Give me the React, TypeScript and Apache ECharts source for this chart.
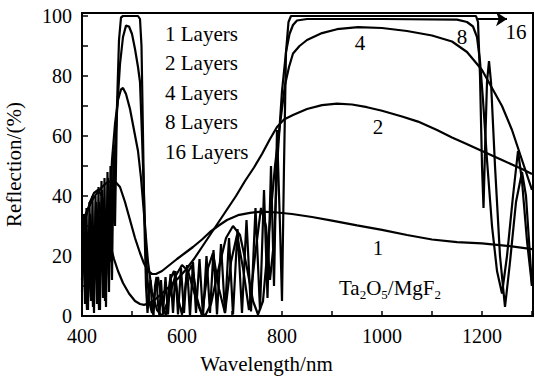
import React, { useEffect, useRef } from "react";
import * as echarts from "echarts";

const FONT = "Liberation Serif";

const seriesNames = ["1 Layers", "2 Layers", "4 Layers", "8 Layers", "16 Layers"];

const layer1: [number, number][] = [
  [400, 31], [410, 35], [420, 38.5], [430, 41], [440, 43], [450, 44.5], [460, 45], [468, 44.5],
  [476, 43], [486, 38], [496, 32], [506, 26], [516, 21], [524, 17.5], [532, 15], [540, 14],
  [548, 14], [560, 15], [575, 17], [590, 19], [606, 21], [622, 23], [640, 25.5], [656, 28],
  [672, 30], [690, 32], [712, 33.6], [736, 34.4], [760, 34.8], [790, 34.5], [820, 34],
  [860, 33], [900, 31.8], [950, 30.2], [1000, 28.7], [1050, 27], [1100, 25.5], [1150, 24.6],
  [1200, 24.2], [1250, 23.4], [1300, 22.3],
];

const layer2: [number, number][] = [
  [400, 28], [408, 33], [416, 38], [424, 41], [432, 42], [440, 40], [448, 32], [456, 24],
  [464, 19], [472, 15], [482, 11], [494, 7.5], [506, 5], [516, 4], [524, 3.7], [534, 4.2],
  [546, 5.5], [560, 7.5], [576, 10], [592, 12.5], [608, 15.5], [624, 19], [640, 23], [656, 27],
  [672, 31], [690, 35.5], [708, 40], [726, 45], [744, 49.5], [760, 54], [776, 59], [790, 63],
  [804, 65.5], [822, 67], [850, 69], [880, 70.3], [910, 70.8], [940, 70.5], [970, 69.6],
  [1000, 68.4], [1040, 66.5], [1072, 64.8], [1110, 62], [1140, 59.5], [1166, 57.6], [1200, 55],
  [1240, 52], [1280, 49], [1300, 47.3],
];

const layer4: [number, number][] = [
  [400, 22], [406, 34], [412, 18], [418, 6], [426, 20], [434, 38], [442, 28], [448, 12],
  [454, 30], [460, 52], [466, 64], [472, 72], [478, 75.5], [482, 76], [488, 74], [496, 69],
  [504, 62], [512, 55], [518, 46], [524, 34], [532, 18], [540, 8], [550, 2], [560, 0],
  [572, 5], [586, 13], [600, 17], [612, 15], [624, 8], [636, 2], [646, 0], [658, 4],
  [672, 15], [688, 26], [702, 30], [716, 27], [730, 16], [742, 5], [752, 0.5], [762, 5],
  [774, 28], [786, 50], [796, 64], [806, 77], [814, 83], [822, 87.5], [835, 90], [850, 92],
  [880, 94.3], [910, 95.6], [952, 96.3], [1000, 96], [1050, 95], [1100, 93.5], [1140, 91.5],
  [1170, 88], [1200, 82], [1220, 76], [1240, 70], [1260, 62], [1276, 54], [1290, 47], [1300, 42],
];

const layer8: [number, number][] = [
  [400, 8], [404, 28], [410, 2], [416, 34], [422, 3], [428, 38], [434, 2], [440, 42],
  [446, 5], [452, 46], [458, 18], [464, 50], [470, 68], [476, 84], [482, 93], [488, 96.8],
  [494, 96.5], [500, 94], [506, 89], [512, 83], [516, 78], [520, 60], [524, 40], [528, 20],
  [534, 5], [540, 1], [546, 8], [552, 13], [560, 4], [568, 0], [576, 12], [584, 15],
  [592, 6], [600, 0.5], [610, 14], [620, 17], [630, 6], [640, 0], [652, 16], [662, 21],
  [674, 9], [686, 1], [698, 18], [710, 27], [722, 16], [734, 2], [746, 20], [758, 36],
  [768, 30], [776, 12], [784, 25], [792, 55], [800, 75], [808, 88], [815, 94], [822, 97],
  [830, 98.5], [850, 99], [1000, 99], [1150, 98.8], [1170, 98], [1182, 96.5], [1190, 93],
  [1196, 85], [1202, 72], [1210, 52], [1220, 30], [1230, 15], [1240, 7.5], [1250, 20],
  [1262, 40], [1272, 55], [1280, 45], [1290, 25], [1300, 10],
];

const layer16: [number, number][] = [
  [400, 12], [403, 34], [406, 4], [409, 36], [412, 2], [415, 38], [418, 5], [421, 40],
  [424, 1], [427, 40], [430, 4], [433, 43], [436, 2], [439, 45], [442, 6], [445, 46],
  [448, 3], [451, 48], [454, 8], [457, 50], [460, 12], [463, 55], [466, 30], [470, 70],
  [474, 92], [478, 99.5], [482, 100], [512, 100], [516, 99], [519, 90], [522, 60], [525, 30],
  [528, 10], [531, 1], [534, 8], [537, 12], [540, 3], [543, 0], [546, 10], [549, 13],
  [552, 4], [555, 0], [558, 12], [562, 1], [567, 13], [572, 0.5], [577, 14], [582, 1],
  [587, 15], [592, 0.5], [598, 16], [604, 1], [610, 17], [616, 0], [622, 18], [628, 1],
  [635, 19], [642, 0], [649, 20], [656, 1], [663, 22], [670, 0.5], [678, 24], [686, 1],
  [694, 26], [702, 0.5], [711, 29], [720, 1], [729, 32], [738, 1.5], [747, 36], [756, 2],
  [764, 42], [771, 6], [778, 50], [784, 10], [790, 62], [796, 30], [800, 5], [804, 50],
  [808, 88], [813, 98], [818, 100], [1188, 100], [1192, 98], [1196, 80], [1200, 50],
  [1203, 36], [1206, 55], [1210, 78], [1214, 85], [1218, 78], [1226, 50], [1236, 20],
  [1246, 3], [1256, 18], [1268, 38], [1280, 48], [1288, 40], [1296, 20], [1300, 10],
];

const curveData = [layer1, layer2, layer4, layer8, layer16];

const curveTags = ["1", "2", "4", "8", "16"];
const xTickLabels = [400, 600, 800, 1000, 1200];
const yTickLabels = [0, 20, 40, 60, 80, 100];

export default function App() {
  const ref = useRef<HTMLDivElement>(null);

  useEffect(() => {
    document.body.style.margin = "0";
    const chart = echarts.init(ref.current!, undefined, { renderer: "svg" });
    const series: any[] = curveData.map((d, i) => ({
      name: seriesNames[i],
      type: "line",
      data: d,
      showSymbol: false,
      symbol: "none",
      smooth: false,
      lineStyle: { color: "#000", width: 2.2 },
      itemStyle: { color: "#000" },
      emphasis: { disabled: true },
      ...(i === 4
        ? {
            markLine: {
              silent: true,
              symbol: ["none", "arrow"],
              symbolSize: 11,
              label: { show: false },
              lineStyle: { color: "#000", width: 2, type: "solid" },
              data: [[{ coord: [1192, 99] }, { coord: [1250, 99] }]],
            },
          }
        : {}),
    }));

    const txt = (x: number, y: number, text: string) => ({
      type: "text",
      x,
      y,
      style: {
        text,
        fill: "#000",
        font: `21px "${FONT}"`,
        align: "center",
        verticalAlign: "middle",
      },
    });

    chart.setOption({
      animation: false,
      backgroundColor: "#fff",
      grid: {
        left: 82,
        right: 2,
        top: 13,
        bottom: 62,
        show: true,
        borderColor: "#000",
        borderWidth: 2,
        containLabel: false,
        outerBoundsMode: "none",
      },
      legend: {
        data: seriesNames,
        orient: "vertical",
        left: 155,
        top: 18,
        icon: "none",
        itemWidth: 0,
        itemHeight: 0,
        itemGap: 8.5,
        selectedMode: false,
        textStyle: { fontSize: 21, fontFamily: FONT, color: "#000" },
      },
      xAxis: {
        type: "value",
        min: 400,
        max: 1302,
        interval: 100,
        name: "Wavelength/nm",
        nameLocation: "middle",
        nameGap: 37,
        nameTextStyle: { fontSize: 21, fontFamily: FONT, color: "#000", padding: [0, 82, 0, 0] },
        axisLine: { lineStyle: { color: "#000", width: 2 } },
        axisTick: { inside: true, length: 5, lineStyle: { color: "#000", width: 1.5 } },
        axisLabel: {
          fontSize: 20,
          fontFamily: FONT,
          color: "#000",
          margin: 10,
          formatter: (v: number) => (xTickLabels.includes(v) ? String(v) : ""),
        },
        splitLine: { show: false },
      },
      yAxis: {
        type: "value",
        min: 0,
        max: 101,
        interval: 10,
        name: "Reflection/(%)",
        nameLocation: "middle",
        nameRotate: 90,
        nameGap: 58,
        nameTextStyle: { fontSize: 21, fontFamily: FONT, color: "#000" },
        axisLine: { lineStyle: { color: "#000", width: 2 } },
        axisTick: { inside: true, length: 6, lineStyle: { color: "#000", width: 1.5 } },
        axisLabel: {
          fontSize: 20,
          fontFamily: FONT,
          color: "#000",
          margin: 10,
          formatter: (v: number) => (yTickLabels.includes(v) ? String(v) : ""),
        },
        splitLine: { show: false },
      },
      graphic: [
        txt(378, 248, curveTags[0]),
        txt(378, 127, curveTags[1]),
        txt(360, 43, curveTags[2]),
        txt(462, 37, curveTags[3]),
        txt(516, 32, curveTags[4]),
        {
          type: "text",
          x: 390,
          y: 288,
          style: {
            text: "{a|Ta}{s|2}{a|O}{s|5}{a|/MgF}{s|2}",
            align: "center",
            verticalAlign: "middle",
            rich: {
              a: { fontSize: 21, fontFamily: FONT, fill: "#000", lineHeight: 26 },
              s: { fontSize: 13, fontFamily: FONT, fill: "#000", lineHeight: 13, verticalAlign: "bottom" },
            },
          },
        },
      ],
      series,
    });
    return () => chart.dispose();
  }, []);

  return <div ref={ref} style={{ width: 535, height: 378 }} />;
}
